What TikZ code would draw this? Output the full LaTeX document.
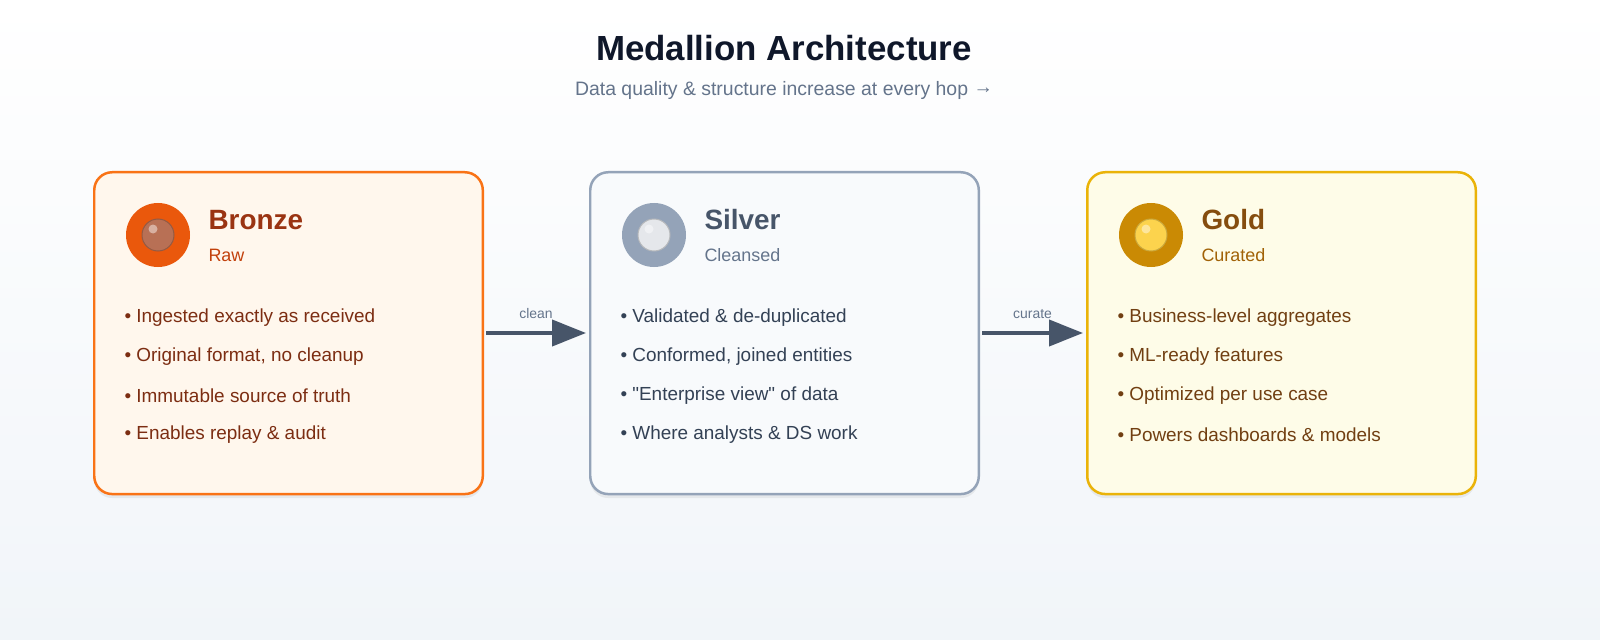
\documentclass[tikz,border=0pt]{standalone}
\usepackage{fontspec}
\setmainfont{Liberation Sans}[Ligatures=TeXOff]
\usetikzlibrary{arrows.meta,shadows}
\definecolor{bgtop}{HTML}{FFFFFF}\definecolor{bgbot}{HTML}{F1F5F9}
\definecolor{bfill}{HTML}{FFF7ED}\definecolor{bline}{HTML}{F97316}\definecolor{btitle}{HTML}{9A3412}\definecolor{bsub}{HTML}{C2410C}\definecolor{btext}{HTML}{7C2D12}\definecolor{bouter}{HTML}{EA580C}\definecolor{binner}{HTML}{B87055}
\definecolor{sfill}{HTML}{F8FAFC}\definecolor{sline}{HTML}{94A3B8}\definecolor{stitle}{HTML}{475569}\definecolor{ssub}{HTML}{64748B}\definecolor{stext}{HTML}{334155}\definecolor{souter}{HTML}{94A3B8}\definecolor{sinner}{HTML}{E5E7EB}
\definecolor{gfill}{HTML}{FEFCE8}\definecolor{gline}{HTML}{EAB308}\definecolor{gtitle}{HTML}{854D0E}\definecolor{gsub}{HTML}{A16207}\definecolor{gtext}{HTML}{713F12}\definecolor{gouter}{HTML}{CA8A04}\definecolor{ginner}{HTML}{FCD34D}
\definecolor{arrowc}{HTML}{475569}\definecolor{titlec}{HTML}{0F172A}
\tikzset{
 card/.style={draw=#1, line width=2.5pt, rounded corners=18pt, minimum width=390pt, minimum height=323pt, anchor=north west, drop shadow={opacity=0.12,shadow xshift=0pt,shadow yshift=-4pt}},
 ttl/.style={anchor=west, font=\fontsize{28}{32}\selectfont\bfseries, text=#1},
 sub/.style={anchor=west, font=\fontsize{18}{20}\selectfont, text=#1},
 bul/.style={anchor=west, font=\fontsize{19}{22}\selectfont, text=#1},
 flow/.style={-{Triangle[length=34pt,width=26pt]}, line width=4pt, draw=arrowc},
 flab/.style={font=\fontsize{14}{16}\selectfont, text=ssub},
}
\newcommand{\medcard}[9]{%
 \node[card=#3line, fill=#3fill] (#1) at (#2,171) {};
 \fill[#3outer] (#2+65,235) circle (32);
 \fill[#3inner] (#2+65,235) circle (16);
 \draw[#3inner!80!black, line width=1pt] (#2+65,235) circle (16);
 \fill[white, opacity=0.45] (#2+60,229) circle (4.5);
 \node[ttl=#3title] (#1t) at (#2+112,220) {#4};
 \node[sub=#3sub] (#1s) at (#2+112,255) {#5};
 \node[bul=#3text] (#1a) at (#2+28,318) {• #6};
 \node[bul=#3text] (#1b) at (#2+28,357) {• #7};
 \node[bul=#3text] (#1c) at (#2+28,396) {• #8};
 \node[bul=#3text] (#1d) at (#2+28,435) {• #9};
}
\begin{document}
\begin{tikzpicture}[x=1bp,y=-1bp]
\shade[top color=bgtop, bottom color=bgbot] (0,0) rectangle (1600,640);
\node[font=\fontsize{35}{40}\selectfont\bfseries, text=titlec] (title) at (784,48) {Medallion Architecture};
\node[font=\fontsize{19.5}{22}\selectfont, text=ssub] (subtitle) at (784,90) {Data quality \& structure increase at every hop \raisebox{2pt}{→}};
\medcard{bronze}{93}{b}{Bronze}{Raw}{Ingested exactly as received}{Original format, no cleanup}{Immutable source of truth}{Enables replay \& audit}
\medcard{silver}{589}{s}{Silver}{Cleansed}{Validated \& de-duplicated}{Conformed, joined entities}{"Enterprise view" of data}{Where analysts \& DS work}
\medcard{gold}{1086}{g}{Gold}{Curated}{Business-level aggregates}{ML-ready features}{Optimized per use case}{Powers dashboards \& models}
\coordinate (b1) at (486,333); \coordinate (s0) at (586,333);
\coordinate (s1) at (982,333); \coordinate (g0) at (1083,333);
\draw[flow] (b1) -- node[flab, above=9pt] (l1) {clean} (s0);
\draw[flow] (s1) -- node[flab, above=9pt] (l2) {curate} (g0);
\pgfresetboundingbox
\useasboundingbox (0,0) rectangle (1600,640);
\end{tikzpicture}
\end{document}
